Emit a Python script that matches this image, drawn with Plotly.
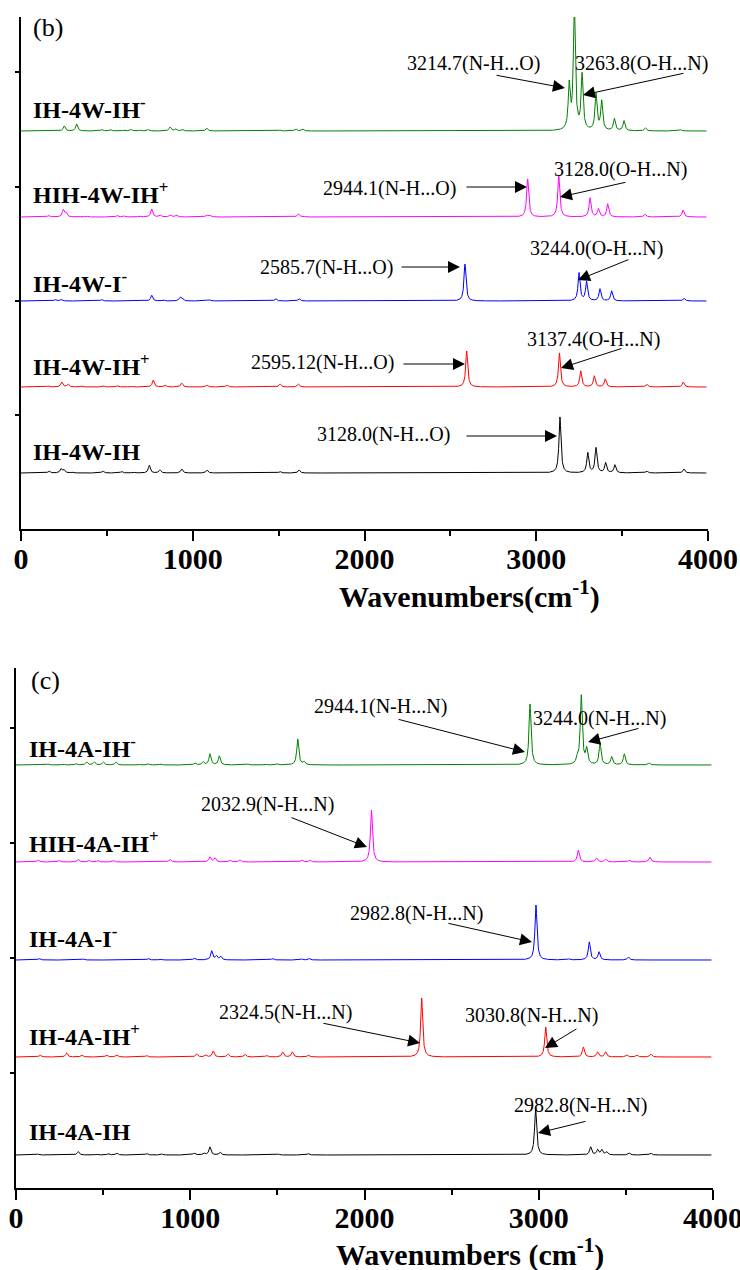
import numpy as np
import plotly.graph_objects as go

# ---------------- data ----------------
wavenumber = np.arange(0.0, 3992.0, 1.0)
HWHM = 7.0

# panel (b) water complexes
b_labels = ["IH-4W-IH<sup>-</sup>", "HIH-4W-IH<sup>+</sup>", "IH-4W-I<sup>-</sup>",
            "IH-4W-IH<sup>+</sup>", "IH-4W-IH"]
b_colors = ["#008000", "#FF00FF", "#0000FF", "#FF0000", "#000000"]
b_offsets = [398, 312, 228, 142, 56]

b1_pos = [252, 324, 470, 520, 600, 640, 690, 740, 868, 900, 940, 1081, 1508, 1600, 1640,
          3192, 3222, 3267, 3348, 3381, 3455, 3511, 3635, 3837]
b1_int = [5, 7, 1.5, 1.5, 1, 1.5, 1, 1.5, 4, 2, 1.5, 3, 1, 2, 2,
          44, 125, 55, 36, 29, 12, 10, 3, 1.5]
b2_pos = [160, 246, 262, 380, 560, 600, 690, 761, 810, 870, 905, 1082, 1100, 1615, 1640,
          2950, 3131, 3313, 3362, 3416, 3633, 3855]
b2_int = [1.5, 7, 4, 1, 1.5, 1, 1, 8, 2, 2, 2, 2, 1.5, 3, 1,
          38, 42, 19, 8, 13, 3, 7]
b3_pos = [200, 235, 470, 761, 829, 926, 936, 1081, 1100, 1483, 1619,
          2585, 3249, 3293, 3371, 3439, 3860]
b3_int = [1.5, 1.5, 1.5, 5.7, 1, 3.3, 2, 1, 1, 2.5, 2.5,
          37, 28, 19, 12, 10, 3]
b4_pos = [160, 237, 274, 350, 480, 560, 640, 770, 838, 936, 1082, 1198, 1508, 1614,
          2595, 3135, 3259, 3338, 3402, 3643, 3856]
b4_int = [1, 5, 3, 1, 1, 1.5, 1, 7, 2, 4, 2, 2, 3, 3,
          36, 34, 16, 11, 8, 3, 5]
b5_pos = [163, 233, 250, 297, 476, 586, 654, 747, 809, 936, 1082, 1508, 1619,
          3138, 3300, 3348, 3404, 3458, 3643, 3860]
b5_int = [2, 4, 3, 1, 2, 1.5, 1, 7.7, 3, 4, 3, 1.5, 3,
          56, 20, 25, 10, 8, 2, 4]

# panel (c) ammonia complexes
c_labels = ["IH-4A-IH<sup>-</sup>", "HIH-4A-IH<sup>+</sup>", "IH-4A-I<sup>-</sup>",
            "IH-4A-IH<sup>+</sup>", "IH-4A-IH"]
c_colors = ["#008000", "#FF00FF", "#0000FF", "#FF0000", "#000000"]
c_offsets = [423, 326, 228, 131, 33]

c1_pos = [185, 271, 344, 406, 449, 501, 574, 700, 760, 830, 1027, 1074, 1113, 1167, 1330,
          1430, 1500, 1617, 1653, 2950, 3221, 3244, 3275, 3352, 3419, 3491, 3633]
c1_int = [1, 1, 1.5, 3, 3, 3, 3, 1, 1, 1, 2, 3, 11, 9, 1,
          1, 1, 26, 3, 61, 5, 69, 15, 21, 8, 11, 2]
c2_pos = [126, 248, 357, 420, 470, 560, 884, 1113, 1142, 1228, 1285, 1640, 1687,
          2040, 3227, 3332, 3384, 3520, 3638]
c2_int = [2, 1.5, 3, 1.5, 1.5, 1.5, 3, 5, 4, 2, 2, 2, 2,
          52, 12, 4, 3, 2, 5]
c3_pos = [134, 386, 759, 826, 1023, 1123, 1150, 1175, 1473, 1640, 1683,
          2984, 3174, 3290, 3346, 3514]
c3_int = [1.5, 1, 1.5, 1, 2, 9, 4, 3.5, 1.5, 1, 1.5,
          55, 1, 18, 8, 3]
c4_pos = [138, 291, 377, 520, 578, 750, 1037, 1088, 1132, 1217, 1314, 1439, 1531, 1586, 1677,
          2328, 3040, 3256, 3338, 3384, 3505, 3562, 3644]
c4_int = [2, 4, 2, 2, 2, 1.5, 3, 2, 6, 3, 3, 1.5, 5, 5, 2,
          59, 30, 10, 5, 5, 2, 2, 3]
c5_pos = [126, 357, 463, 529, 578, 750, 836, 1023, 1079, 1113, 1171, 1505, 1677,
          2982, 3298, 3338, 3362, 3390, 3518, 3642]
c5_int = [1, 3.5, 1, 1.5, 2, 1.5, 1, 2, 2, 8, 3, 1, 1.5,
          47, 8, 5, 5, 3, 2, 2]

# annotations: (text, text_x, text_y, tail_x, tail_y, head_x, head_y)
b_notes = [
    ("3214.7(N-H...O)", 2632, 466, 2760, 454, 3167, 441),
    ("3263.8(O-H...N)", 3610, 466, 3866, 456, 3272, 434),
    ("2944.1(N-H...O)", 2143, 341, 2585, 342, 2946, 342),
    ("3128.0(O-H...N)", 3488, 360, 3528, 347, 3138, 332),
    ("2585.7(N-H...O)", 1776, 262, 2207, 262, 2556, 262),
    ("3244.0(O-H...N)", 3348, 281, 3546, 270, 3243, 249),
    ("2595.12(N-H...O)", 1753, 167, 2218, 165, 2585, 165),
    ("3137.4(O-H...N)", 3336, 190, 3505, 181, 3144, 161),
    ("3128.0(N-H...O)", 2108, 95, 2585, 93, 3121, 93),
]
c_notes = [
    ("2944.1(N-H...N)", 2089, 482, 2187, 469, 2921, 436),
    ("3244.0(N-H...N)", 3351, 470, 3581, 460, 3283, 446),
    ("2032.9(N-H...N)", 1446, 384, 1572, 371, 2014, 341),
    ("2982.8(N-H...N)", 2296, 275, 2473, 265, 2961, 246),
    ("2324.5(N-H...N)", 1544, 176, 1756, 165, 2319, 145),
    ("3030.8(N-H...N)", 2956, 173, 3225, 160, 3036, 140),
    ("2982.8(N-H...N)", 3237, 83, 3277, 67, 2996, 55),
]
b_label_y = [421, 336, 247, 164, 77]
c_label_y = [441, 346, 251, 153, 56]
x_ticks = [0, 1000, 2000, 3000, 4000]

# ---------------- figure ----------------
def spectrum(pos, inten):
    y = np.zeros_like(wavenumber)
    for p, h in zip(pos, inten):
        y += h * HWHM**2 / ((wavenumber - p) ** 2 + HWHM**2)
    return y

SERIF = "Liberation Serif, Times New Roman, serif"
fig = go.Figure()

b_sets = [(b1_pos, b1_int), (b2_pos, b2_int), (b3_pos, b3_int), (b4_pos, b4_int), (b5_pos, b5_int)]
c_sets = [(c1_pos, c1_int), (c2_pos, c2_int), (c3_pos, c3_int), (c4_pos, c4_int), (c5_pos, c5_int)]

for (pos, inten), off, col in zip(b_sets, b_offsets, b_colors):
    fig.add_trace(go.Scatter(x=wavenumber, y=spectrum(pos, inten) + off, mode="lines",
                             line=dict(color=col, width=1), xaxis="x", yaxis="y",
                             showlegend=False, hoverinfo="skip"))
for (pos, inten), off, col in zip(c_sets, c_offsets, c_colors):
    fig.add_trace(go.Scatter(x=wavenumber, y=spectrum(pos, inten) + off, mode="lines",
                             line=dict(color=col, width=1), xaxis="x2", yaxis="y2",
                             showlegend=False, hoverinfo="skip"))

W, H = 740, 1270
xax = dict(range=[0, 4000], tickvals=x_ticks, ticktext=[str(t) for t in x_ticks],
           ticks="outside", ticklen=10, tickwidth=1.5, tickcolor="black", automargin=False,
           ticklabeloverflow="allow", ticklabelstandoff=-8,
           showline=True, linecolor="black", linewidth=1.5, showgrid=False, zeroline=False,
           tickfont=dict(family=SERIF, size=30, color="black", weight="bold"),
           minor=dict(ticks="outside", ticklen=5, tickwidth=1.5, tickcolor="black",
                      tickvals=[500, 1500, 2500, 3500], showgrid=False))
yax = dict(showline=True, linecolor="black", linewidth=1.5, showgrid=False, zeroline=False,
           automargin=False,
           ticks="outside", ticklen=4, tickwidth=1.5, tickcolor="black", showticklabels=False)

fig.update_layout(
    template="none",
    width=W, height=H, margin=dict(l=0, r=0, t=0, b=0, autoexpand=False),
    paper_bgcolor="white", plot_bgcolor="white",
    xaxis=dict(xax, domain=[21 / W, 708 / W], anchor="y"),
    yaxis=dict(yax, domain=[(H - 529) / H, (H - 17) / H], range=[0, 512], anchor="x",
               tickvals=[114, 228, 342, 457]),
    xaxis2=dict(xax, domain=[16 / W, 713 / W], anchor="y2"),
    yaxis2=dict(yax, domain=[(H - 1188) / H, (H - 668) / H], range=[0, 520], anchor="x2",
                tickvals=[115, 230, 345, 460]),
)

anns = []
for notes, xr, yr in [(b_notes, "x", "y"), (c_notes, "x2", "y2")]:
    for txt, tx, ty, ax, ay, hx, hy in notes:
        anns.append(dict(x=tx, y=ty, xref=xr, yref=yr, text=txt, showarrow=False,
                         font=dict(family=SERIF, size=20, color="black"),
                         xanchor="center", yanchor="middle"))
        anns.append(dict(x=hx, y=hy, ax=ax, ay=ay, xref=xr, yref=yr, axref=xr, ayref=yr,
                         text="", showarrow=True, arrowhead=2, arrowsize=2.4,
                         arrowwidth=1, arrowcolor="black"))

for labels, ys, xr, yr, xpx in [(b_labels, b_label_y, "x", "y", 31), (c_labels, c_label_y, "x2", "y2", 27)]:
    for lab, yy in zip(labels, ys):
        anns.append(dict(x=xpx / W, y=yy, xref="paper", yref=yr, text="<b>" + lab + "</b>",
                         showarrow=False, xanchor="left", yanchor="middle",
                         font=dict(family=SERIF, size=24, color="black")))

anns.append(dict(x=31 / W, y=502, xref="paper", yref="y", text="(b)", showarrow=False,
                 xanchor="left", yanchor="middle", font=dict(family=SERIF, size=26, color="black")))
anns.append(dict(x=29 / W, y=508, xref="paper", yref="y2", text="(c)", showarrow=False,
                 xanchor="left", yanchor="middle", font=dict(family=SERIF, size=26, color="black")))

anns.append(dict(x=470 / W, y=(H - 595) / H, xref="paper", yref="paper",
                 text="<b>Wavenumbers(cm<sup>-1</sup>)</b>", showarrow=False,
                 xanchor="center", yanchor="middle", font=dict(family=SERIF, size=30, color="black")))
anns.append(dict(x=470 / W, y=(H - 1252) / H, xref="paper", yref="paper",
                 text="<b>Wavenumbers (cm<sup>-1</sup>)</b>", showarrow=False,
                 xanchor="center", yanchor="middle", font=dict(family=SERIF, size=30, color="black")))

fig.update_layout(annotations=anns)
fig.write_html("out.html")
